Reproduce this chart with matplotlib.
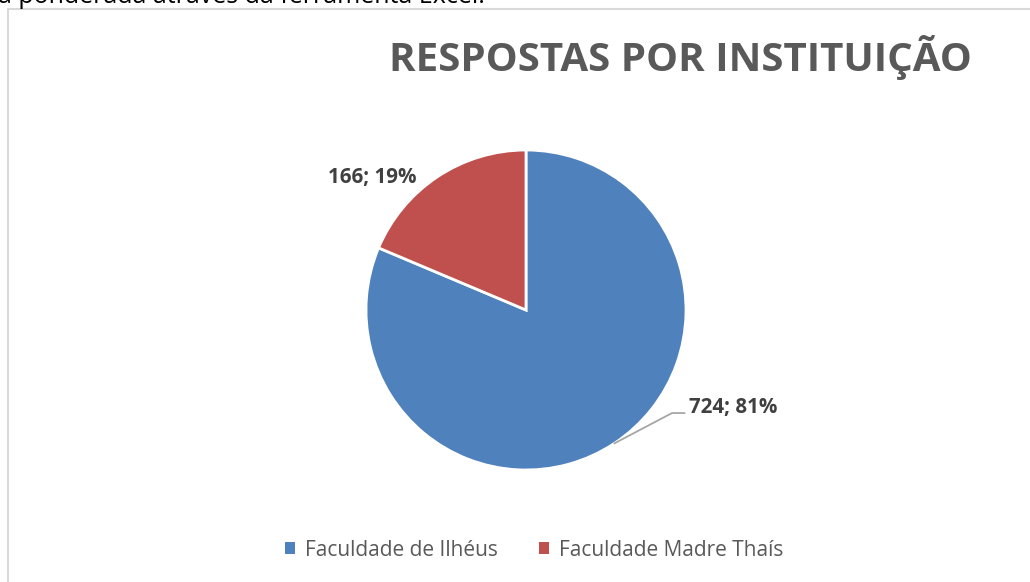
import matplotlib.pyplot as plt
from matplotlib.patches import Rectangle, Patch
import numpy as np

plt.rcParams['font.family'] = ['Open Sans', 'DejaVu Sans']

# data
institutions = ['Faculdade de Ilhéus', 'Faculdade Madre Thaís']
responses = [724, 166]
colors = ['#4F81BD', '#C0504D']
title = 'RESPOSTAS POR INSTITUIÇÃO'

W, H = 1030, 582
fig = plt.figure(figsize=(W / 100, H / 100), dpi=100)

# leftover text from the document above the chart (cut off)
fig.text(-2 / W, 1 - 3 / H, 'a ponderada através da ferramenta Excel.',
         fontsize=18, color='black', va='baseline', ha='left')

# chart frame
fig.patches.append(Rectangle((8 / W, -0.1), 1.1, 1 - 9 / H + 0.1,
                             transform=fig.transFigure, fill=False,
                             edgecolor='#D9D9D9', linewidth=1.5))

fig.text(680 / W, 1 - 57 / H, title, fontsize=29, fontweight='bold',
         color='#595959', ha='center', va='center')

cx, cy, r = 526, 310, 160
ax = fig.add_axes([(cx - r) / W, (H - cy - r) / H, 2 * r / W, 2 * r / H])
wedges, _ = ax.pie(responses, colors=colors, startangle=90, counterclock=False,
                   wedgeprops=dict(edgecolor='white', linewidth=2))
ax.set_xlim(-1, 1)
ax.set_ylim(-1, 1)
ax.set_aspect('equal')
ax.axis('off')

total = sum(responses)
labels = ['%d; %d%%' % (v, round(v / total * 100)) for v in responses]

# 724 label with leader line
ang = np.deg2rad((wedges[0].theta1 + wedges[0].theta2) / 2)
x0, y0 = np.cos(ang), np.sin(ang)
ax.plot([x0, 0.9125, 0.99], [y0, -0.644, -0.644], color='#A6A6A6', lw=1.3,
        clip_on=False)
ax.text(1.02, -0.61, labels[0], fontsize=14.8, fontweight='bold',
        color='#404040', ha='left', va='center', clip_on=False)

# 166 label
ax.text(-0.96, 0.83, labels[1], fontsize=14.8, fontweight='bold',
        color='#404040', ha='center', va='center', clip_on=False)

handles = [Patch(facecolor=c, edgecolor='none') for c in colors]
leg = fig.legend(handles, institutions, loc='center', bbox_to_anchor=(534 / W, 1 - 550 / H),
                 ncol=2, frameon=False, fontsize=15, handlelength=0.5,
                 handleheight=0.5, handletextpad=0.45, columnspacing=2.0)
for t in leg.get_texts():
    t.set_color('#595959')

fig.savefig('out.png', dpi=100)
